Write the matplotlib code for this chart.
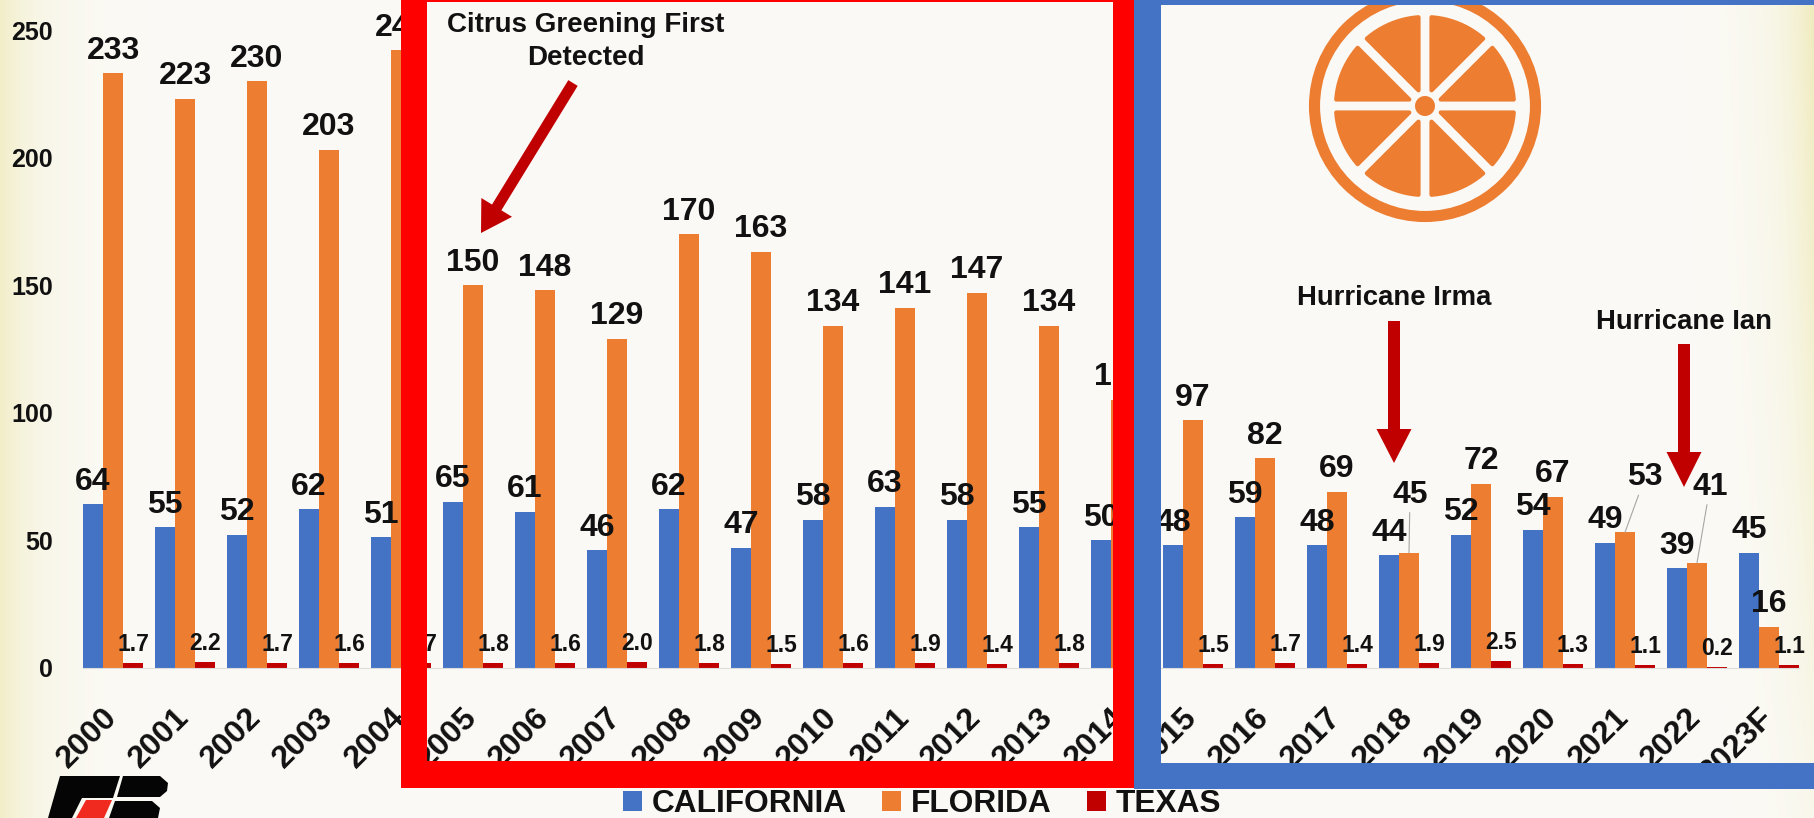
import math
import numpy as np
import matplotlib
matplotlib.use('Agg')
import matplotlib.pyplot as plt
from matplotlib.patches import Rectangle, Circle, Polygon, FancyArrow

plt.rcParams['font.family'] = ['Liberation Sans', 'DejaVu Sans']
plt.rcParams['font.weight'] = 'bold'

years = ['2000','2001','2002','2003','2004','2005','2006','2007','2008','2009','2010','2011',
         '2012','2013','2014','2015','2016','2017','2018','2019','2020','2021','2022','2023F']
california = [64,55,52,62,51,65,61,46,62,47,58,63,58,55,50,48,59,48,44,52,54,49,39,45]
florida = [233,223,230,203,242,150,148,129,170,163,134,141,147,134,105,97,82,69,45,72,67,53,41,16]
texas = [1.7,2.2,1.7,1.6,1.7,1.8,1.6,2.0,1.8,1.5,1.6,1.9,1.4,1.8,1.6,1.5,1.7,1.4,1.9,2.5,1.3,1.1,0.2,1.1]
y_ticks = [0,50,100,150,200,250]

BLUE = '#4472C4'
ORANGE = '#ED7D31'
DARKRED = '#C00000'
INK = '#111111'

W, H = 1814, 818
PX_PER_UNIT = 2.55
BASE_Y = 667.5
GROUP_PX = 72.0
FIRST_X = 113.0

fig = plt.figure(figsize=(W/100, H/100), dpi=100)

# cream backdrop, going yellow towards the side edges
bg = fig.add_axes([0, 0, 1, 1], zorder=0)
gx, gy = np.meshgrid(np.arange(W), np.arange(H))
amount = 0.6*np.exp(-gx/38.0) + (0.75 - 0.6*gy/H)*np.exp(-(W-1-gx)/32.0)
amount = np.clip(amount, 0, 1)[..., None]
paper = np.array([251, 250, 246])/255
yellow = np.array([236, 230, 170])/255
bg.imshow(paper*(1-amount) + yellow*amount, aspect='auto')
bg.axis('off')

ax = fig.add_axes([60/W, (H-BASE_Y)/H, (W-60)/W, BASE_Y/H], zorder=1)
ax.patch.set_alpha(0)
ax.set_xlim((60-FIRST_X)/GROUP_PX, (W-FIRST_X)/GROUP_PX)
ax.set_ylim(0, BASE_Y/PX_PER_UNIT)

pos = np.arange(len(years))
bw = 20/GROUP_PX
b1 = ax.bar(pos-bw, california, bw, color=BLUE, label='CALIFORNIA')
b2 = ax.bar(pos, florida, bw, color=ORANGE, label='FLORIDA')
b3 = ax.bar(pos+bw, texas, bw, color=DARKRED, label='TEXAS')

for s in ['top', 'left', 'right']:
    ax.spines[s].set_visible(False)
ax.spines['bottom'].set_color('#DDDDDD')
ax.spines['bottom'].set_bounds(-bw*1.5, len(years)-1+bw*1.5)

ax.set_yticks(y_ticks)
ax.tick_params(axis='y', length=0, pad=5, labelsize=18, labelcolor=INK)
ax.set_xticks(pos)
ax.set_xticklabels(years, rotation=45, ha='right', va='center', rotation_mode='anchor')
ax.tick_params(axis='x', length=0, pad=33, labelsize=23, labelcolor=INK)

def put_label(x, value, text, size, gap_px, shift_px=0, leader=False):
    # gap_px is the distance between bar top and text baseline
    props = None
    if leader:
        props = dict(arrowstyle='-', color='#A6A6A6', lw=0.8, shrinkA=0, shrinkB=0)
    ax.annotate(text, xy=(x, value), xytext=(shift_px*0.72, gap_px*0.72),
                textcoords='offset points', ha='center', va='baseline',
                fontsize=size, color=INK, arrowprops=props)

# Florida labels that sit away from their bars, with a leader line
moved = {18: (50, 1), 21: (47, 20), 22: (68, 13)}

for i in pos:
    put_label(i-bw, california[i], str(california[i]), 23, 14.5)
    gap, shift = moved.get(i, (14.5, 0))
    put_label(i, florida[i], str(florida[i]), 23, gap, shift, leader=i in moved)
    put_label(i+bw, texas[i], '%.1f' % texas[i], 16.5, 12)

fig.legend(handles=[b1, b2, b3], loc='center', bbox_to_anchor=(922/W, 1-804/H), ncol=3, frameon=False,
           fontsize=22.8, handlelength=0.6, handleheight=0.6, handletextpad=0.3, columnspacing=1.12,
           labelcolor=INK, borderpad=0, borderaxespad=0)

# frames, arrows and icons are placed in pixels on a transparent layer
top = fig.add_axes([0, 0, 1, 1], zorder=2)
top.set_xlim(0, W)
top.set_ylim(H, 0)
top.axis('off')

def band(x0, y0, x1, y1, color):
    top.add_patch(Rectangle((x0, y0), x1-x0, y1-y0, color=color, lw=0))

band(401, 0, 427, 788, '#FF0000')
band(1113, 0, 1134, 788, '#FF0000')
band(401, 0, 1134, 2, '#FF0000')
band(401, 761, 1134, 788, '#FF0000')
band(1134, 0, 1161, 789, BLUE)
band(1134, 0, W, 5, BLUE)
band(1134, 763, W, 789, BLUE)

def arrow(x0, y0, x1, y1, shaft, head, head_len):
    top.add_patch(FancyArrow(x0, y0, x1-x0, y1-y0, width=shaft, head_width=head, head_length=head_len,
                             length_includes_head=True, color=DARKRED, lw=0))

arrow(573, 83, 481, 233, 11, 36, 30)
arrow(1394, 321, 1394, 463, 12, 35, 34)
arrow(1684, 344, 1684, 487, 12, 35, 35)

top.text(586, 25, 'Citrus Greening First', ha='center', va='center', fontsize=20, color=INK)
top.text(586, 58, 'Detected', ha='center', va='center', fontsize=20, color=INK)
top.text(1394, 298, 'Hurricane Irma', ha='center', va='center', fontsize=19.8, color=INK)
top.text(1684, 322, 'Hurricane Ian', ha='center', va='center', fontsize=19.8, color=INK)

# orange slice icon, clipped by the top of the blue frame
cx, cy = 1425, 106
top.add_patch(Circle((cx, cy), 110.5, fill=False, ec=ORANGE, lw=8))
top.add_patch(Circle((cx, cy), 10, color=ORANGE, lw=0))
offset = 6.5   # half the gap between two segments, stroke included
radius = 89
for k in range(8):
    start = math.radians(45*k)
    end = start + math.radians(45)
    mid = (start + end)/2
    inner = offset/math.sin(math.radians(22.5))
    apex = (cx + inner*math.cos(mid), cy + inner*math.sin(mid))
    trim = math.asin(offset/radius)
    angles = np.linspace(start+trim, end-trim, 12)
    arc = [(cx + radius*math.cos(a), cy + radius*math.sin(a)) for a in angles]
    top.add_patch(Polygon([apex] + arc, closed=True, fc=ORANGE, ec=ORANGE, lw=3, joinstyle='round'))
band(1161, 0, W, 5, BLUE)

# logo at the bottom left, cut by the lower edge
top.add_patch(Polygon([(60, 776), (120, 776), (113, 798), (82, 798), (72, 818), (48, 818)], fc='#050505', lw=0))
top.add_patch(Polygon([(123, 776), (160, 776), (168, 783), (167, 791), (160, 797), (117, 797)], fc='#050505', lw=0))
top.add_patch(Polygon([(115, 801), (152, 801), (160, 808), (158, 818), (109, 818)], fc='#050505', lw=0))
top.add_patch(Polygon([(86, 800), (112, 800), (104, 818), (76, 818)], fc='#F02A1E', lw=0))

fig.savefig('out.png', dpi=100)
